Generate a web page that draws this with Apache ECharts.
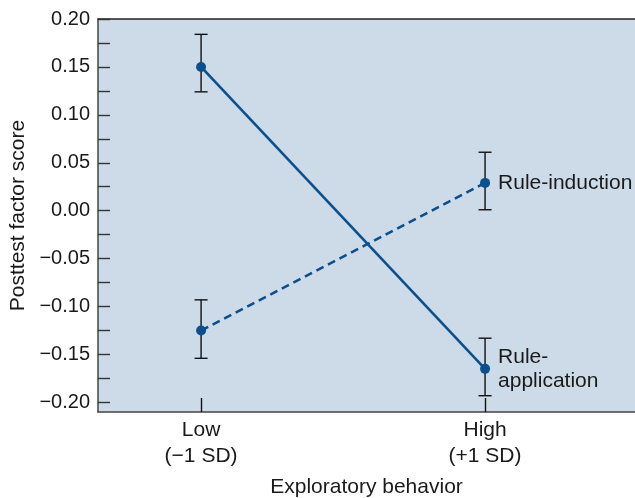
<!DOCTYPE html>
<html>
<head>
<meta charset="utf-8">
<script src="https://cdn.jsdelivr.net/npm/echarts@6.0.0/dist/echarts.min.js"></script>
<style>html,body{margin:0;padding:0;background:#fff}#c{width:635px;height:498px}</style>
</head>
<body>
<div id="c"></div>
<script>
// Data
const groupLabels = ['Low\n(\u22121 SD)', 'High\n(+1 SD)'];
const groupX = [0, 1];
const ruleApplication = [0.150, -0.165];
const ruleApplicationLow = [0.124, -0.193];
const ruleApplicationHigh = [0.184, -0.133];
const ruleInduction = [-0.125, 0.029];
const ruleInductionLow = [-0.154, 0.001];
const ruleInductionHigh = [-0.093, 0.061];
const yTickLabels = [-0.20, -0.15, -0.10, -0.05, 0.00, 0.05, 0.10, 0.15, 0.20];
const yTicksAll = [-0.20, -0.175, -0.15, -0.125, -0.10, -0.075, -0.05, -0.025, 0.00, 0.025, 0.05, 0.075, 0.10, 0.125, 0.15, 0.175, 0.20];
const seriesNames = ['Rule-application', 'Rule-induction'];
const seriesLabels = ['Rule-\napplication', 'Rule-induction'];

const FONT = 'Liberation Sans, Arial, sans-serif';
const LINE = '#0b4f8c';
const TXT = '#1a1a1a';

function fmtY(v) {
  if (Math.abs(v) < 1e-9) return '0.00';
  return (v < 0 ? '\u2212' : '') + Math.abs(v).toFixed(2);
}

function lineData(vals, showLast) {
  return groupX.map((x, i) => {
    const d = { value: [x, vals[i]] };
    if (showLast && i === groupX.length - 1) d.label = { show: true };
    return d;
  });
}
function errData(lo, hi) {
  return groupX.map((x, i) => [x, lo[i], hi[i]]);
}
function renderErr(params, api) {
  const x = api.value(0);
  const top = api.coord([x, api.value(2)]);
  const bot = api.coord([x, api.value(1)]);
  const hw = 6.5;
  const style = { stroke: '#111', lineWidth: 1.4 };
  return {
    type: 'group',
    children: [
      { type: 'line', shape: { x1: top[0], y1: top[1], x2: bot[0], y2: bot[1] }, style },
      { type: 'line', shape: { x1: top[0] - hw, y1: top[1], x2: top[0] + hw, y2: top[1] }, style },
      { type: 'line', shape: { x1: bot[0] - hw, y1: bot[1], x2: bot[0] + hw, y2: bot[1] }, style }
    ]
  };
}

const chart = echarts.init(document.getElementById('c'), null, { renderer: 'canvas' });
chart.setOption({
  animation: false,
  textStyle: { fontFamily: FONT },
  grid: { left: 98, right: 0, top: 19, bottom: 86, containLabel: false, outerBoundsMode: 'none', show: true, backgroundColor: '#cddbe8', borderWidth: 0 },
  xAxis: [{
    type: 'value', min: -0.363, max: 1.528,
    name: 'Exploratory behavior', nameLocation: 'middle', nameGap: 65,
    nameTextStyle: { fontSize: 21, color: TXT, fontFamily: FONT },
    axisLine: { show: true, onZero: false, lineStyle: { color: '#444', width: 1.5 } },
    axisTick: { show: true, inside: true, length: 14, customValues: groupX, lineStyle: { color: '#111', width: 1.4 } },
    axisLabel: { show: true, customValues: groupX, formatter: v => groupLabels[Math.round(v)], fontSize: 21, lineHeight: 26, color: TXT, margin: 5, fontFamily: FONT },
    splitLine: { show: false }
  }, {
    type: 'value', min: -0.363, max: 1.528, position: 'top',
    axisLine: { show: true, onZero: false, lineStyle: { color: '#222', width: 1.5 } },
    axisTick: { show: false }, axisLabel: { show: false }, splitLine: { show: false }
  }],
  yAxis: {
    type: 'value', min: -0.21, max: 0.20,
    name: 'Posttest factor score', nameLocation: 'middle', nameGap: 68,
    nameTextStyle: { fontSize: 21, color: TXT, fontFamily: FONT },
    axisLine: { show: true, onZero: false, lineStyle: { color: '#444', width: 1.5 } },
    axisTick: { show: true, inside: true, length: 12, customValues: yTicksAll, lineStyle: { color: '#333', width: 1.4 } },
    axisLabel: { show: true, customValues: yTickLabels, formatter: fmtY, fontSize: 20, color: TXT, margin: 8, fontFamily: FONT },
    splitLine: { show: false }
  },
  series: [
    { type: 'custom', name: 'errA', renderItem: renderErr, data: errData(ruleApplicationLow, ruleApplicationHigh), z: 1, silent: true },
    { type: 'custom', name: 'errI', renderItem: renderErr, data: errData(ruleInductionLow, ruleInductionHigh), z: 1, silent: true },
    {
      type: 'line', name: seriesNames[0], data: lineData(ruleApplication, true), z: 3,
      symbol: 'circle', symbolSize: 10, itemStyle: { color: LINE },
      lineStyle: { color: LINE, width: 2.6, type: 'solid' },
      label: { show: false, position: 'right', distance: 8, formatter: () => seriesLabels[0], fontSize: 21, lineHeight: 24, color: TXT, fontFamily: FONT }
    },
    {
      type: 'line', name: seriesNames[1], data: lineData(ruleInduction, true), z: 3,
      symbol: 'circle', symbolSize: 10, itemStyle: { color: LINE },
      lineStyle: { color: LINE, width: 2.6, type: [8, 5] },
      label: { show: false, position: 'right', distance: 8, formatter: () => seriesLabels[1], fontSize: 21, color: TXT, fontFamily: FONT }
    }
  ]
});
</script>
</body>
</html>
